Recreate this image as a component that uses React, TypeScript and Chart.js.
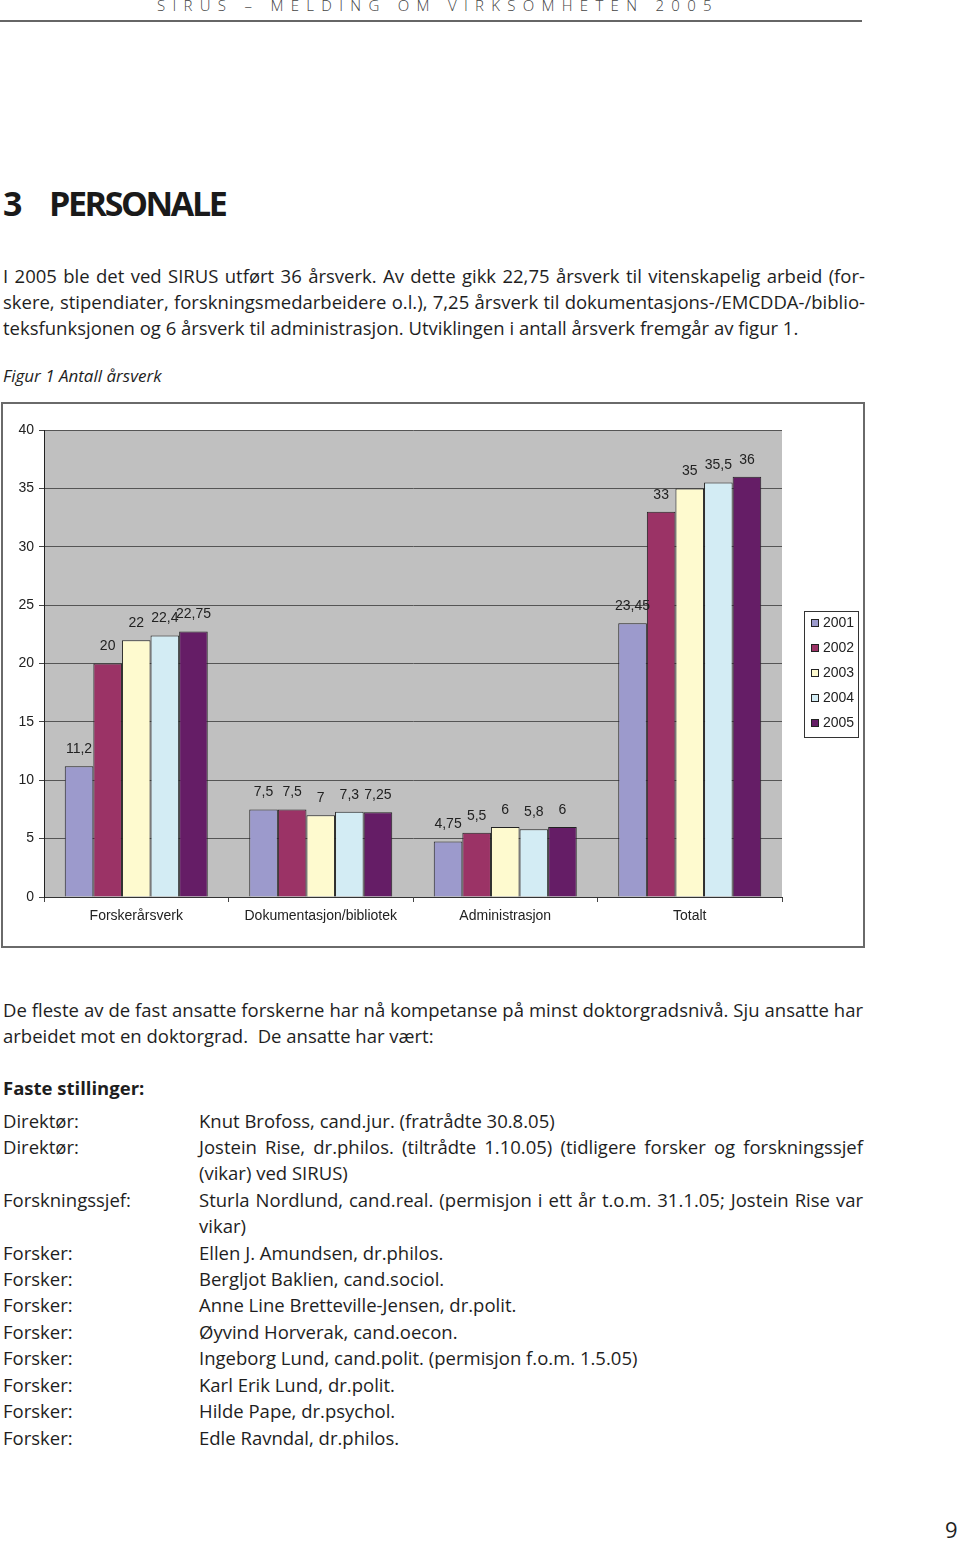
import React, { useEffect, useRef } from "react";
import { Chart, registerables } from "chart.js";
Chart.register(...registerables);

const categories = ["Forskerårsverk", "Dokumentasjon/bibliotek", "Administrasjon", "Totalt"];
const seriesLabels = ["2001", "2002", "2003", "2004", "2005"];
const values2001 = [11.2, 7.5, 4.75, 23.45];
const values2002 = [20, 7.5, 5.5, 33];
const values2003 = [22, 7, 6, 35];
const values2004 = [22.4, 7.3, 5.8, 35.5];
const values2005 = [22.75, 7.25, 6, 36];
const seriesValues = [values2001, values2002, values2003, values2004, values2005];
const seriesColors = ["#9c9acc", "#9b3366", "#fefacf", "#d3ecf4", "#651d66"];

const introLines = [
  "I 2005 ble det ved SIRUS utført 36 årsverk. Av dette gikk 22,75 årsverk til vitenskapelig arbeid (for-",
  "skere, stipendiater, forskningsmedarbeidere o.l.), 7,25 årsverk til dokumentasjons-/EMCDDA-/biblio-",
  "teksfunksjonen og 6 årsverk til administrasjon. Utviklingen i antall årsverk fremgår av figur 1.",
];
const afterLines = [
  "De fleste av de fast ansatte forskerne har nå kompetanse på minst doktorgradsnivå. Sju ansatte har",
  "arbeidet mot en doktorgrad.  De ansatte har vært:",
];
const staffRoles = ["Direktør:", "Direktør:", "", "Forskningssjef:", "", "Forsker:", "Forsker:", "Forsker:", "Forsker:", "Forsker:", "Forsker:", "Forsker:", "Forsker:"];
const staffText = [
  "Knut Brofoss, cand.jur. (fratrådte 30.8.05)",
  "Jostein Rise, dr.philos. (tiltrådte 1.10.05) (tidligere forsker og forskningssjef",
  "(vikar) ved SIRUS)",
  "Sturla Nordlund, cand.real. (permisjon i ett år t.o.m. 31.1.05; Jostein Rise var",
  "vikar)",
  "Ellen J. Amundsen, dr.philos.",
  "Bergljot Baklien, cand.sociol.",
  "Anne Line Bretteville-Jensen, dr.polit.",
  "Øyvind Horverak, cand.oecon.",
  "Ingeborg Lund, cand.polit. (permisjon f.o.m. 1.5.05)",
  "Karl Erik Lund, dr.polit.",
  "Hilde Pape, dr.psychol.",
  "Edle Ravndal, dr.philos.",
];
const staffJustify = [false, true, false, true, false, false, false, false, false, false, false, false, false];
const staffCenters = [1121, 1147, 1173, 1200, 1226, 1253, 1279, 1305, 1332, 1358, 1385, 1411, 1438];

const BODY_FONT = "'Open Sans', 'Noto Sans', sans-serif";
const CHART_FONT = "'Liberation Sans', Arial, sans-serif";
const TEXT_COLOR = "#1e1e1e";

function fmt(v: number) {
  return String(v).replace(".", ",");
}

function Line(props: { text: string; left: number; center: number; width: number; justify?: boolean; size?: number; bold?: boolean; italic?: boolean }) {
  const size = props.size ?? 18.5;
  return (
    <div
      style={{
        position: "absolute",
        left: props.left,
        top: props.center - 13,
        width: props.width,
        height: 26,
        lineHeight: "26px",
        fontSize: size,
        fontWeight: props.bold ? 700 : 400,
        fontStyle: props.italic ? "italic" : "normal",
        textAlign: props.justify ? "justify" : "left",
        textAlignLast: props.justify ? "justify" : "left",
        whiteSpace: props.justify ? "normal" : "pre",
        color: TEXT_COLOR,
        overflow: "visible",
      } as React.CSSProperties}
    >
      {props.text}
    </div>
  );
}

const bgPlugin = {
  id: "plotBg",
  beforeDraw(chart: any) {
    const { ctx, chartArea } = chart;
    ctx.save();
    ctx.fillStyle = "#c0c0c0";
    ctx.fillRect(chartArea.left, chartArea.top, chartArea.right - chartArea.left, chartArea.bottom - chartArea.top);
    ctx.restore();
  },
};

const valueLabelPlugin = {
  id: "valueLabels",
  afterDatasetsDraw(chart: any) {
    const { ctx } = chart;
    ctx.save();
    ctx.font = `14px ${CHART_FONT}`;
    ctx.fillStyle = "#222";
    ctx.textAlign = "center";
    ctx.textBaseline = "middle";
    chart.data.datasets.forEach((ds: any, i: number) => {
      const meta = chart.getDatasetMeta(i);
      meta.data.forEach((el: any, j: number) => {
        ctx.fillText(fmt(ds.data[j]), el.x, el.y - 17);
      });
    });
    ctx.restore();
  },
};

const legendPlugin = {
  id: "boxLegend",
  afterDraw(chart: any) {
    const { ctx } = chart;
    const x = 801, y = 207, w = 54, h = 126;
    ctx.save();
    ctx.fillStyle = "#ffffff";
    ctx.fillRect(x, y, w, h);
    ctx.strokeStyle = "#333";
    ctx.lineWidth = 1;
    ctx.strokeRect(x + 0.5, y + 0.5, w, h);
    ctx.font = `14px ${CHART_FONT}`;
    ctx.textBaseline = "middle";
    ctx.textAlign = "left";
    chart.data.datasets.forEach((ds: any, i: number) => {
      const cy = y + 12 + i * 25;
      ctx.fillStyle = ds.backgroundColor;
      ctx.fillRect(x + 7, cy - 4, 8, 8);
      ctx.strokeStyle = "#222";
      ctx.strokeRect(x + 7.5, cy - 3.5, 7, 7);
      ctx.fillStyle = "#222";
      ctx.fillText(ds.label, x + 19, cy + 0.5);
    });
    ctx.restore();
  },
};

function BarChart() {
  const ref = useRef<HTMLCanvasElement | null>(null);
  useEffect(() => {
    if (!ref.current) return;
    const chart = new Chart(ref.current, {
      type: "bar",
      data: {
        labels: categories,
        datasets: seriesLabels.map((label, i) => ({
          label,
          data: seriesValues[i],
          backgroundColor: seriesColors[i],
          borderColor: "#222",
          borderWidth: 1,
          categoryPercentage: 0.775,
          barPercentage: 1,
        })),
      },
      options: {
        animation: false,
        responsive: false,
        maintainAspectRatio: false,
        events: [],
        layout: { padding: { left: 0, right: 81, top: 26, bottom: 0 } },
        plugins: { legend: { display: false }, tooltip: { enabled: false } },
        scales: {
          x: {
            grid: { offset: true, drawOnChartArea: false, drawTicks: true, tickLength: 5, color: "#444", tickColor: "#444" },
            border: { display: true, color: "#333", width: 1 },
            ticks: { font: { family: CHART_FONT, size: 14 }, color: "#222", padding: 6, maxRotation: 0, autoSkip: false },
            afterFit: (s: any) => { s.height = 49; },
          },
          y: {
            min: 0,
            max: 40,
            grid: { color: "#555", lineWidth: 1, drawTicks: true, tickLength: 5, tickColor: "#444" },
            border: { display: true, color: "#222", width: 1 },
            ticks: { stepSize: 5, font: { family: CHART_FONT, size: 14 }, color: "#222", padding: 5 },
            afterFit: (s: any) => { s.width = 41; },
          },
        },
      },
      plugins: [bgPlugin, valueLabelPlugin, legendPlugin],
    } as any);
    return () => chart.destroy();
  }, []);
  return <canvas ref={ref} width={860} height={542} style={{ display: "block", width: 860, height: 542 }} />;
}

export default function App() {
  return (
    <div style={{ position: "absolute", left: 0, top: 0, width: 960, height: 1541, background: "#fff", fontFamily: BODY_FONT, color: TEXT_COLOR, overflow: "hidden" }}>
      <div style={{ position: "absolute", left: 157, top: -5, fontSize: 15, fontWeight: 300, letterSpacing: "7.3px", color: "#444", whiteSpace: "pre", lineHeight: "20px" }}>
        SIRUS – MELDING OM VIRKSOMHETEN 2005
      </div>
      <div style={{ position: "absolute", left: 0, top: 20, width: 862, height: 2, background: "#666" }} />
      <div style={{ position: "absolute", left: 3, top: 181, fontSize: 34, fontWeight: 700, lineHeight: "44px", color: "#1a1a1a" }}>3</div>
      <div style={{ position: "absolute", left: 49, top: 181, fontSize: 34, fontWeight: 700, lineHeight: "44px", letterSpacing: "-2.4px", color: "#1a1a1a" }}>PERSONALE</div>

      {introLines.map((t, i) => (
        <Line key={"i" + i} text={t} left={3} center={276 + i * 26} width={862} justify={i < 2} />
      ))}
      <Line text="Figur 1 Antall årsverk" left={3} center={376} width={400} italic size={17} />

      <div style={{ position: "absolute", left: 1, top: 402, width: 864, height: 546, border: "2px solid #6a6a6a", boxSizing: "border-box" }}>
        <BarChart />
      </div>

      {afterLines.map((t, i) => (
        <Line key={"a" + i} text={t} left={3} center={1010 + i * 26} width={860} justify={i === 0} />
      ))}
      <Line text="Faste stillinger:" left={3} center={1088} width={400} bold />
      {staffText.map((t, i) => (
        <React.Fragment key={"s" + i}>
          {staffRoles[i] ? <Line text={staffRoles[i]} left={3} center={staffCenters[i]} width={190} /> : null}
          <Line text={t} left={199} center={staffCenters[i]} width={664} justify={staffJustify[i]} />
        </React.Fragment>
      ))}
      <div style={{ position: "absolute", left: 945, top: 1516, fontSize: 22, lineHeight: "26px", color: TEXT_COLOR }}>9</div>
    </div>
  );
}
